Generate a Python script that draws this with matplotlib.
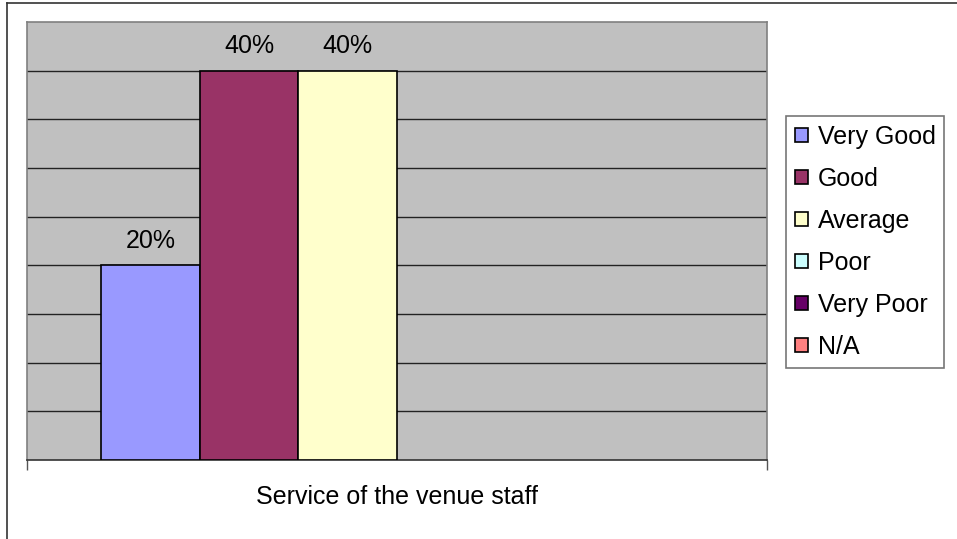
import matplotlib
matplotlib.use("Agg")
import matplotlib.pyplot as plt
from matplotlib.patches import Patch
from matplotlib.lines import Line2D

plt.rcParams["font.family"] = ["Liberation Sans", "DejaVu Sans"]

category = "Service of the venue staff"
ratings = ["Very Good", "Good", "Average", "Poor", "Very Poor", "N/A"]
shares = [20, 40, 40, 0, 0, 0]
colors = ["#9999FF", "#993366", "#FFFFCC", "#CCFFFF", "#660066", "#FF8080"]

W, H = 957, 539
FS = 18
fig = plt.figure(figsize=(W / 100, H / 100), dpi=100)
fig.patch.set_facecolor("white")

# outer chart frame (runs off the right and bottom edges)
fig.add_artist(Line2D([7 / W, 7 / W], [0, 1 - 3 / H], color="#333333", lw=1.2))
fig.add_artist(Line2D([7 / W, 1], [1 - 3 / H, 1 - 3 / H], color="#333333", lw=1.2))

ax = fig.add_axes([27 / W, (H - 460) / H, 740 / W, 438 / H])
ax.set_facecolor("#C0C0C0")

n = len(ratings)
w = 1 / (n + 1.5)   # 150% gap width, split on both sides
for i, (lab, v, c) in enumerate(zip(ratings, shares, colors)):
    x = (i - (n - 1) / 2) * w
    ax.bar(x, v, width=w, color=c, edgecolor="black",
           linewidth=1.2 if v > 0 else 0, label=lab, zorder=3)
    if v > 0:
        ax.text(x, v + 2.5, f"{v}%", ha="center", va="center", fontsize=FS)

ax.set_xlim(-0.5, 0.5)
ax.set_ylim(0, 45)
for y in range(5, 45, 5):
    ax.axhline(y, color="#222222", lw=1, zorder=1)

ax.set_yticks([])
ax.set_xticks([-0.5, 0.5])
ax.set_xticklabels([])
ax.tick_params(axis="x", direction="out", length=7, width=1, color="#555555")
ax.text(0.5, -0.085, category, transform=ax.transAxes, ha="center", va="center",
        fontsize=FS)
for s in ("top", "left", "right"):
    ax.spines[s].set_color("#808080")
    ax.spines[s].set_linewidth(1.2)
ax.spines["bottom"].set_color("#333333")
ax.spines["bottom"].set_linewidth(1.2)

handles = [Patch(facecolor=c, edgecolor="black", linewidth=1.2) for c in colors]
leg = fig.legend(handles, ratings, loc="upper left",
                 bbox_to_anchor=(786 / W, 1 - 116 / H), fontsize=FS,
                 frameon=True, fancybox=False, edgecolor="#555555",
                 handlelength=0.52, handleheight=0.52, handletextpad=0.4,
                 labelspacing=0.72, borderpad=0.35, borderaxespad=0)
leg.get_frame().set_linewidth(1.2)

fig.savefig("out.png", dpi=100)
